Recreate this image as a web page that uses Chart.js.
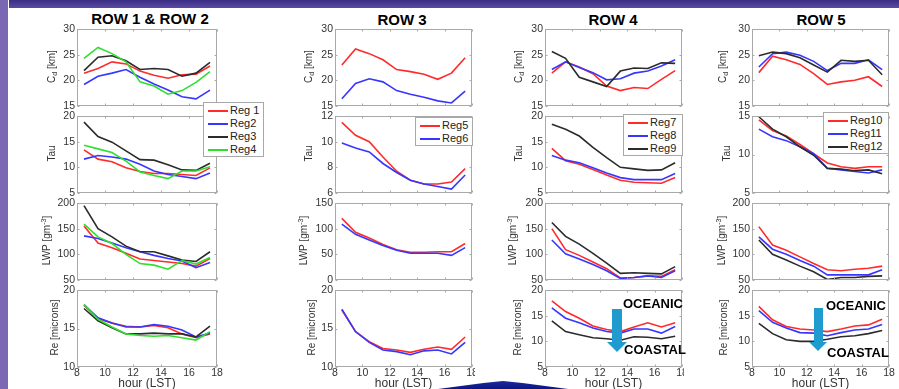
<!DOCTYPE html>
<html lang="en">
<head>
    <meta charset="UTF-8">
    <title>Diurnal cycle by region</title>
    <script src="https://cdn.jsdelivr.net/npm/chart.js"></script>
    <style>
        html, body {
            margin: 0;
            padding: 0;
        }

        body {
            width: 899px;
            height: 389px;
            overflow: hidden;
            position: relative;
            background: #fff;
            font-family: "Liberation Sans", Arial, sans-serif;
        }

        .leftbar {
            position: absolute;
            left: 0;
            top: 0;
            width: 8px;
            height: 389px;
            background: #7b68b2;
        }

        .topbar {
            position: absolute;
            left: 9px;
            top: 0;
            width: 890px;
            height: 8px;
            background: linear-gradient(#3a2c84, #5a4aa2);
        }

        .col {
            position: absolute;
            top: 8px;
            height: 381px;
            background: #fff;
            overflow: hidden;
        }

        .col canvas {
            position: absolute;
        }

        .title {
            position: absolute;
            width: 200px;
            text-align: center;
            font-weight: bold;
            font-size: 15px;
            line-height: 18px;
            color: #000;
        }

        .legend {
            position: absolute;
            background: #fff;
            border: 1px solid #a8a8a8;
            padding: 1px 0 0 0;
            font-size: 11px;
            color: #222;
        }

        .legend div {
            height: 13px;
            line-height: 13px;
            white-space: nowrap;
        }

        .legend span {
            display: inline-block;
            width: 20px;
            height: 0;
            border-top: 2px solid;
            vertical-align: middle;
            margin: 0 2px 0 4px;
        }

        .note {
            position: absolute;
            z-index: 10;
            font-weight: bold;
            font-size: 13px;
            line-height: 15px;
            color: #000;
        }

        .shaft, .head {
            position: absolute;
            z-index: 10;
            background: #1f9bcf;
        }

        .head {
            clip-path: polygon(0 0, 100% 0, 50% 100%);
        }

        .swoosh {
            position: absolute;
            z-index: 10;
            left: 438px;
            top: 379px;
            width: 130px;
            height: 10px;
            background: linear-gradient(#1c2fa6, #0b1680);
            clip-path: polygon(0 100%, 35% 40%, 50% 20%, 65% 40%, 100% 100%);
        }
    </style>
</head>
<body>

<div class="leftbar"></div>
<div class="topbar"></div>
<div class="swoosh"></div>

<script>
    // hour of each mean value (LST)
    var hours = [8.5, 9.5, 10.5, 11.5, 12.5, 13.5, 14.5, 15.5, 16.5, 17.5];
    var xTicks = [8, 10, 12, 14, 16, 18];

    var columnTitles = ['ROW 1 & ROW 2', 'ROW 3', 'ROW 4', 'ROW 5'];
    var regionsA = ['Reg 1', 'Reg2', 'Reg3', 'Reg4'];
    var regionsB = ['Reg5', 'Reg6'];
    var regionsC = ['Reg7', 'Reg8', 'Reg9'];
    var regionsD = ['Reg10', 'Reg11', 'Reg12'];

    // tick labels of the y axes
    var cdTicks = [15, 20, 25, 30];
    var tauTicksA = [5, 10, 15, 20];
    var tauTicksB = [6, 8, 10, 12];
    var tauTicksD = [5, 10, 15];
    var lwpTicksA = [50, 100, 150, 200];
    var lwpTicksB = [0, 50, 100, 150];
    var reTicksA = [10, 15, 20];
    var reTicksC = [5, 10, 15, 20];

    // ROW 1 & ROW 2
    var reg1Cd  = [21.4, 22.3, 23.6, 23.2, 21.8, 21.0, 20.4, 21.1, 21.2, 22.8];
    var reg2Cd  = [19.2, 20.8, 21.4, 22.1, 20.6, 19.3, 18.1, 16.8, 16.4, 18.1];
    var reg3Cd  = [21.9, 24.5, 24.8, 23.8, 22.1, 22.3, 22.1, 20.8, 21.4, 23.5];
    var reg4Cd  = [24.3, 26.4, 25.2, 23.6, 19.7, 18.9, 17.3, 18.0, 19.6, 21.7];
    var reg1Tau = [13.4, 11.6, 11.1, 9.9, 9.2, 8.8, 8.8, 8.6, 8.4, 9.9];
    var reg2Tau = [11.6, 12.3, 12.0, 11.6, 10.6, 9.3, 8.6, 8.2, 7.8, 8.9];
    var reg3Tau = [18.8, 16.0, 14.9, 13.2, 11.5, 11.4, 10.5, 9.5, 9.4, 10.8];
    var reg4Tau = [14.3, 13.6, 12.9, 11.2, 9.1, 8.4, 7.8, 9.3, 9.3, 10.1];
    var reg1Lwp = [155, 122, 113, 102, 91, 88, 85, 82, 77, 92];
    var reg2Lwp = [136, 131, 122, 113, 105, 98, 92, 87, 74, 84];
    var reg3Lwp = [195, 150, 134, 116, 105, 105, 97, 89, 86, 105];
    var reg4Lwp = [159, 134, 121, 100, 82, 79, 71, 88, 81, 94];
    var reg1Re  = [18.0, 16.3, 15.7, 15.3, 15.2, 15.4, 15.1, 14.3, 13.8, 14.3];
    var reg2Re  = [18.1, 16.4, 15.7, 15.2, 15.2, 15.5, 15.3, 14.8, 13.9, 14.4];
    var reg3Re  = [17.6, 16.0, 15.1, 14.3, 14.3, 14.4, 14.3, 14.3, 13.9, 15.3];
    var reg4Re  = [18.1, 16.2, 15.2, 14.3, 14.1, 14.0, 14.1, 13.8, 13.5, 14.6];

    // ROW 3
    var reg5Cd  = [23.0, 26.1, 25.2, 24.0, 22.1, 21.7, 21.2, 20.2, 21.4, 24.4];
    var reg6Cd  = [16.4, 19.4, 20.3, 19.7, 18.0, 17.3, 16.7, 16.0, 15.6, 17.9];
    var reg5Tau = [11.5, 10.5, 10.0, 8.8, 7.7, 7.0, 6.7, 6.7, 6.85, 7.9];
    var reg6Tau = [9.9, 9.5, 9.2, 8.3, 7.6, 7.0, 6.7, 6.5, 6.3, 7.4];
    var reg5Lwp = [120, 93, 82, 69, 59, 54, 54, 55, 55, 71];
    var reg6Lwp = [109, 89, 78, 67, 58, 52, 52, 52, 48, 63];
    var reg5Re  = [17.4, 14.6, 13.3, 12.4, 12.2, 11.9, 12.3, 12.6, 12.3, 13.9];
    var reg6Re  = [17.5, 14.6, 13.2, 12.2, 12.0, 11.6, 12.1, 12.2, 11.7, 13.2];

    // ROW 4
    var reg7Cd  = [21.4, 23.6, 22.6, 21.3, 18.9, 18.0, 18.6, 18.4, 20.2, 21.9];
    var reg8Cd  = [22.1, 23.6, 22.5, 21.5, 20.1, 20.3, 21.4, 21.8, 22.8, 24.0];
    var reg9Cd  = [25.6, 24.3, 20.6, 19.7, 18.8, 21.8, 22.4, 22.3, 23.4, 23.3];
    var reg7Tau = [13.7, 11.3, 10.6, 9.6, 8.5, 7.5, 7.1, 7.0, 6.9, 8.0];
    var reg8Tau = [12.3, 11.4, 10.9, 9.9, 8.9, 8.0, 7.6, 7.6, 7.6, 8.8];
    var reg9Tau = [18.4, 17.4, 16.1, 13.9, 11.9, 10.0, 9.7, 9.4, 9.5, 10.9];
    var reg7Lwp = [150, 109, 98, 85, 72, 54, 55, 58, 57, 70];
    var reg8Lwp = [128, 101, 91, 80, 68, 53, 55, 58, 55, 68];
    var reg9Lwp = [162, 135, 120, 102, 83, 63, 64, 63, 62, 76];
    var reg7Re  = [17.9, 15.8, 14.5, 13.0, 12.3, 11.9, 12.8, 13.6, 12.8, 13.6];
    var reg8Re  = [16.5, 14.5, 13.6, 12.6, 11.9, 11.6, 12.4, 12.4, 11.6, 12.9];
    var reg9Re  = [14.0, 11.9, 11.3, 10.7, 10.5, 10.2, 10.9, 10.8, 10.5, 11.0];

    // ROW 5
    var reg10Cd  = [21.5, 24.7, 24.0, 23.1, 21.3, 19.2, 19.7, 20.0, 20.7, 18.8];
    var reg11Cd  = [22.6, 25.2, 25.5, 24.9, 23.7, 21.9, 23.3, 23.3, 24.0, 22.1];
    var reg12Cd  = [24.8, 25.5, 25.2, 24.4, 23.0, 21.6, 23.9, 23.7, 23.9, 21.1];
    var reg10Tau = [14.5, 13.1, 12.4, 11.3, 10.1, 8.9, 8.4, 8.2, 8.4, 8.4];
    var reg11Tau = [13.3, 12.3, 11.8, 11.0, 10.1, 8.2, 8.0, 7.8, 7.6, 8.0];
    var reg12Tau = [14.9, 13.3, 12.3, 11.0, 9.9, 8.2, 8.1, 7.9, 8.0, 7.5];
    var reg10Lwp = [154, 118, 108, 95, 82, 70, 68, 71, 73, 77];
    var reg11Lwp = [134, 110, 100, 88, 77, 60, 60, 60, 60, 70];
    var reg12Lwp = [128, 100, 89, 77, 66, 51, 55, 55, 57, 58];
    var reg10Re  = [16.8, 14.2, 12.9, 12.4, 12.2, 11.9, 12.4, 13.0, 13.2, 14.3];
    var reg11Re  = [16.0, 13.7, 12.6, 11.7, 11.6, 11.1, 11.7, 12.2, 12.4, 13.3];
    var reg12Re  = [13.5, 11.5, 10.3, 10.0, 10.0, 10.4, 10.9, 11.1, 11.5, 12.1];

    var lineColors = ['#ff2b2b', '#3636ff', '#2b2b2b', '#2ee02e'];
    var textColor = '#333';
    var frameColor = '#a9a9a9';
    var fontFamily = '"Liberation Sans", Arial, sans-serif';

    var columns = [
        { title: columnTitles[0], regions: regionsA,
          cd: [reg1Cd, reg2Cd, reg3Cd, reg4Cd], tau: [reg1Tau, reg2Tau, reg3Tau, reg4Tau],
          lwp: [reg1Lwp, reg2Lwp, reg3Lwp, reg4Lwp], re: [reg1Re, reg2Re, reg3Re, reg4Re],
          cdTicks: cdTicks, tauTicks: tauTicksA, lwpTicks: lwpTicksA, reTicks: reTicksA },
        { title: columnTitles[1], regions: regionsB,
          cd: [reg5Cd, reg6Cd], tau: [reg5Tau, reg6Tau],
          lwp: [reg5Lwp, reg6Lwp], re: [reg5Re, reg6Re],
          cdTicks: cdTicks, tauTicks: tauTicksB, lwpTicks: lwpTicksB, reTicks: reTicksA },
        { title: columnTitles[2], regions: regionsC,
          cd: [reg7Cd, reg8Cd, reg9Cd], tau: [reg7Tau, reg8Tau, reg9Tau],
          lwp: [reg7Lwp, reg8Lwp, reg9Lwp], re: [reg7Re, reg8Re, reg9Re],
          cdTicks: cdTicks, tauTicks: tauTicksA, lwpTicks: lwpTicksA, reTicks: reTicksC },
        { title: columnTitles[3], regions: regionsD,
          cd: [reg10Cd, reg11Cd, reg12Cd], tau: [reg10Tau, reg11Tau, reg12Tau],
          lwp: [reg10Lwp, reg11Lwp, reg12Lwp], re: [reg10Re, reg11Re, reg12Re],
          cdTicks: cdTicks, tauTicks: tauTicksD, lwpTicks: lwpTicksA, reTicks: reTicksC }
    ];

    var rowDefs = [
        { key: 'cd', label: 'C_d [km]' },
        { key: 'tau', label: 'Tau' },
        { key: 'lwp', label: 'LWP [gm^{-3}]' },
        { key: 're', label: 'Re [microns]' }
    ];

    // page layout (px)
    var colLeft = [8, 264, 475, 684];
    var colRight = [264, 475, 684, 899];
    var plotLeft = [77, 335, 545, 752];
    var plotRight = [217, 472, 682, 889];
    var plotTop = [29, 116, 203, 290];
    var plotBottom = [106, 193, 280, 367];
    var titleCenter = [150, 402, 613, 821];
    var yTitleOffset = [[25, 25, 30, 22], [26, 26, 31, 23], [26, 26, 32, 27], [29, 25, 30, 28]];
    var legendBox = [[203, 102, 59], [415, 117, 56], [623, 114, 58], [823, 112, 64]];

    Chart.defaults.font.family = fontFamily;

    // draw text with _x / ^{..} sub- and superscripts
    function drawRichText(ctx, text, size) {
        var parts = [], re = /([_^])(\{[^}]*\}|.)/g, last = 0, m;
        while ((m = re.exec(text))) {
            if (m.index > last) parts.push({ t: text.slice(last, m.index), s: 0 });
            parts.push({ t: m[2].replace(/[{}]/g, ''), s: m[1] === '_' ? 1 : -1 });
            last = re.lastIndex;
        }
        if (last < text.length) parts.push({ t: text.slice(last), s: 0 });
        var small = Math.round(size * 0.7), total = 0;
        parts.forEach(function (p) {
            ctx.font = (p.s ? small : size) + 'px ' + fontFamily;
            p.w = ctx.measureText(p.t).width;
            total += p.w;
        });
        var x = -total / 2;
        ctx.textAlign = 'left';
        ctx.textBaseline = 'middle';
        parts.forEach(function (p) {
            ctx.font = (p.s ? small : size) + 'px ' + fontFamily;
            ctx.fillText(p.t, x, p.s * size * 0.32);
            x += p.w;
        });
    }

    // matlab style box with inward ticks and rotated y label
    var framePlugin = {
        id: 'frame',
        afterDraw: function (chart, args, opts) {
            var a = chart.chartArea, ctx = chart.ctx;
            var l = Math.round(a.left) + 0.5, r = Math.round(a.right) - 0.5;
            var t = Math.round(a.top) + 0.5, b = Math.round(a.bottom) - 0.5;
            ctx.save();
            ctx.strokeStyle = frameColor;
            ctx.lineWidth = 1;
            ctx.strokeRect(l, t, r - l, b - t);
            ctx.beginPath();
            xTicks.forEach(function (v) {
                var px = Math.round(chart.scales.x.getPixelForValue(v)) + 0.5;
                ctx.moveTo(px, t); ctx.lineTo(px, t + 2);
                ctx.moveTo(px, b); ctx.lineTo(px, b - 2);
            });
            opts.yTicks.forEach(function (v) {
                var py = Math.round(chart.scales.y.getPixelForValue(v)) + 0.5;
                ctx.moveTo(l, py); ctx.lineTo(l + 2, py);
                ctx.moveTo(r, py); ctx.lineTo(r - 2, py);
            });
            ctx.stroke();
            ctx.fillStyle = textColor;
            ctx.translate(a.left - opts.offset, (a.top + a.bottom) / 2 - 1);
            ctx.rotate(-Math.PI / 2);
            drawRichText(ctx, opts.label, 10);
            ctx.restore();
        }
    };

    var colDivs = columns.map(function (col, ci) {
        var d = document.createElement('div');
        d.className = 'col';
        d.style.left = colLeft[ci] + 'px';
        d.style.width = (colRight[ci] - colLeft[ci]) + 'px';
        d.style.zIndex = ci + 1;
        document.body.appendChild(d);

        var t = document.createElement('div');
        t.className = 'title';
        t.textContent = col.title;
        t.style.left = (titleCenter[ci] - 100 - colLeft[ci]) + 'px';
        t.style.top = (11 - 8 + (ci === 0 ? -1 : 0)) + 'px';
        d.appendChild(t);
        return d;
    });

    function addChart(ci, ri) {
        var col = columns[ci], row = rowDefs[ri];
        var bottom = ri === 3;
        var axisW = 20, padL = 24, padR = 10, padT = 9, axisH = 24;
        var padB = bottom ? 0 : 9;
        var left = plotLeft[ci] - axisW - padL;
        var top = plotTop[ri] - padT;
        var w = plotRight[ci] - plotLeft[ci] + axisW + padL + padR;
        var h = plotBottom[ri] - plotTop[ri] + padT + (bottom ? axisH : padB);

        var cv = document.createElement('canvas');
        cv.width = w;
        cv.height = h;
        cv.style.left = (left - colLeft[ci]) + 'px';
        cv.style.top = (top - 8) + 'px';
        colDivs[ci].appendChild(cv);

        var yTicks = col[row.key + 'Ticks'];
        var datasets = col[row.key].map(function (vals, i) {
            return {
                label: col.regions[i],
                data: hours.map(function (hr, k) { return { x: hr, y: vals[k] }; }),
                borderColor: lineColors[i],
                backgroundColor: lineColors[i],
                borderWidth: 1.6,
                pointRadius: 0,
                tension: 0,
                order: -i
            };
        });

        var xScale = {
            type: 'linear',
            min: xTicks[0],
            max: xTicks[xTicks.length - 1],
            display: bottom,
            grid: { display: false, drawTicks: false },
            border: { display: false },
            afterBuildTicks: function (s) { s.ticks = xTicks.map(function (v) { return { value: v }; }); },
            ticks: { padding: 0, color: textColor, font: { size: 10.5 }, maxRotation: 0, autoSkip: false },
            title: { display: bottom, text: 'hour (LST)', padding: 0, color: textColor, font: { size: 12 } }
        };
        if (bottom) {
            xScale.afterFit = function (s) { s.height = axisH; };
        }

        new Chart(cv.getContext('2d'), {
            type: 'line',
            data: { datasets: datasets },
            options: {
                responsive: false,
                animation: false,
                layout: { padding: { left: padL, right: padR, top: padT, bottom: padB } },
                plugins: {
                    legend: { display: false },
                    tooltip: { enabled: false },
                    frame: { yTicks: yTicks, label: row.label, offset: yTitleOffset[ci][ri] }
                },
                scales: {
                    x: xScale,
                    y: {
                        min: yTicks[0],
                        max: yTicks[yTicks.length - 1],
                        grid: { display: false, drawTicks: false },
                        border: { display: false },
                        afterBuildTicks: function (s) { s.ticks = yTicks.map(function (v) { return { value: v }; }); },
                        afterFit: function (s) { s.width = axisW; },
                        ticks: { padding: 2, color: textColor, font: { size: 10.5 } }
                    }
                }
            },
            plugins: [framePlugin]
        });
    }

    function addLegend(ci) {
        var col = columns[ci], box = legendBox[ci];
        var lg = document.createElement('div');
        lg.className = 'legend';
        lg.style.left = (box[0] - colLeft[ci]) + 'px';
        lg.style.top = (box[1] - 8) + 'px';
        lg.style.width = box[2] + 'px';
        col.regions.forEach(function (name, i) {
            var r = document.createElement('div');
            var s = document.createElement('span');
            s.style.borderColor = lineColors[i];
            r.appendChild(s);
            r.appendChild(document.createTextNode(name));
            lg.appendChild(r);
        });
        colDivs[ci].appendChild(lg);
    }

    columns.forEach(function (col, ci) {
        rowDefs.forEach(function (row, ri) { addChart(ci, ri); });
        addLegend(ci);
    });

    // OCEANIC -> COASTAL arrows on the Re panels of ROW 4 and ROW 5
    var arrows = [
        { shaft: [612, 309, 10, 33], head: [607, 342, 20, 10], top: [623, 296], bottom: [624, 342] },
        { shaft: [814, 308, 9, 34], head: [809, 342, 18, 9], top: [826, 298], bottom: [827, 345] }
    ];
    arrows.forEach(function (a) {
        [['shaft', a.shaft], ['head', a.head]].forEach(function (p) {
            var el = document.createElement('div');
            el.className = p[0];
            el.style.left = p[1][0] + 'px';
            el.style.top = p[1][1] + 'px';
            el.style.width = p[1][2] + 'px';
            el.style.height = p[1][3] + 'px';
            document.body.appendChild(el);
        });
        [['OCEANIC', a.top], ['COASTAL', a.bottom]].forEach(function (n) {
            var el = document.createElement('div');
            el.className = 'note';
            el.textContent = n[0];
            el.style.left = n[1][0] + 'px';
            el.style.top = n[1][1] + 'px';
            document.body.appendChild(el);
        });
    });
</script>
</body>
</html>
